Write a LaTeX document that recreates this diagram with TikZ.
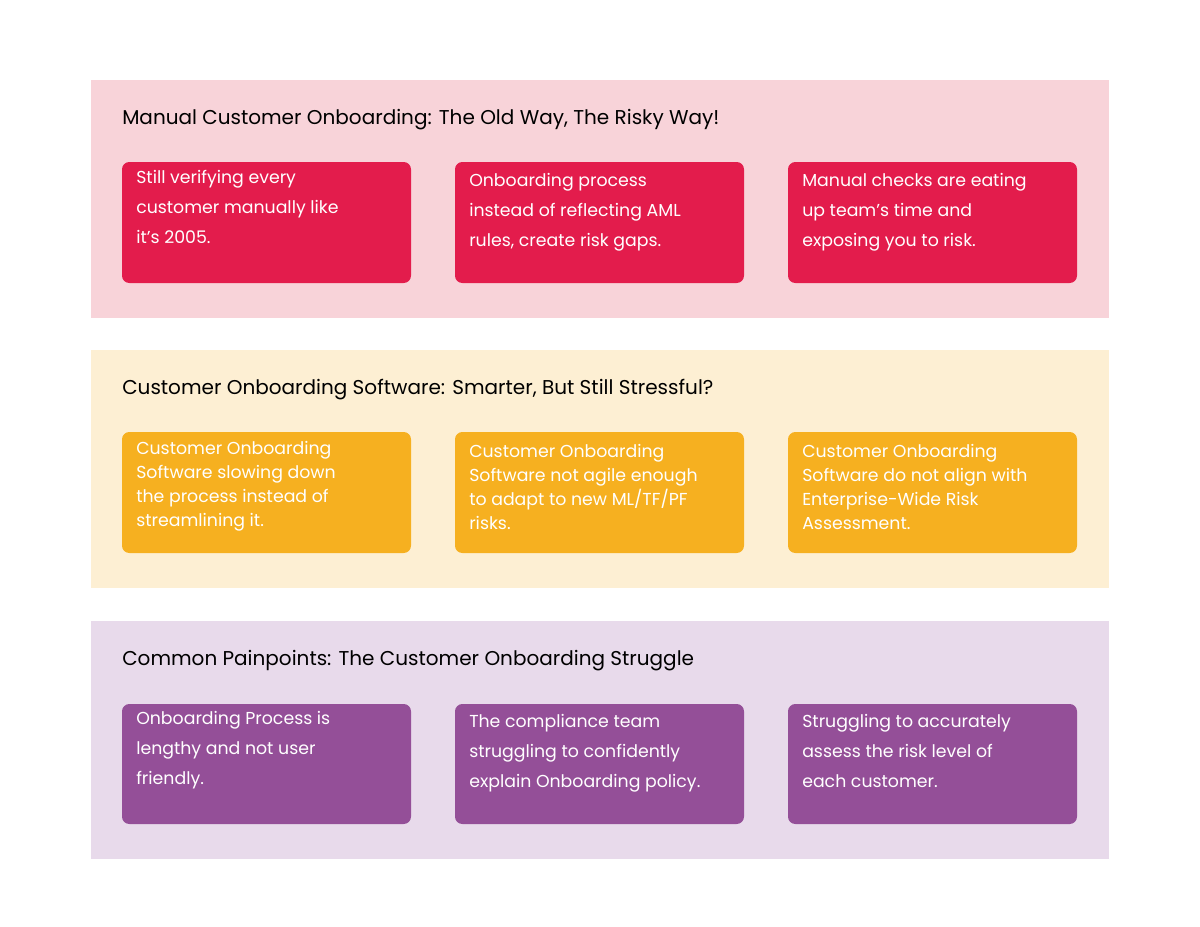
\documentclass[tikz,border=0pt]{standalone}
\usepackage{fontspec}
\setmainfont{Poppins}
\definecolor{pinkband}{HTML}{F8D3D9}
\definecolor{pinkbox}{HTML}{E31C4C}
\definecolor{yellowband}{HTML}{FDEFD3}
\definecolor{yellowbox}{HTML}{F6B020}
\definecolor{purpleband}{HTML}{E8DAEB}
\definecolor{purplebox}{HTML}{944F98}
\tikzset{
	band/.style = {draw = none},
	heading/.style = {anchor = west, inner sep = 0pt, font = \fontsize{15}{18}\selectfont},
	card/.style = {draw = none, rounded corners = 5.5pt},
	cardtext/.style = {anchor = north west, inner sep = 0pt, text = white, align = left,
		font = \fontsize{13}{22.5}\selectfont},
	tighttext/.style = {cardtext, font = \fontsize{13}{18}\selectfont}
}
\begin{document}
\begin{tikzpicture}[x = 0.75pt, y = -0.75pt]
\useasboundingbox[fill = white] (0,0) rectangle (1200,926);

% Bänder
\fill[band, pinkband] (91,80) rectangle (1109,318);
\fill[band, yellowband] (91,350) rectangle (1109,588);
\fill[band, purpleband] (91,621) rectangle (1109,859);

% Überschriften
\node[heading] (manual) at (122,120) {Manual Customer Onboarding: The Old Way, The Risky Way!};
\node[heading] (software) at (122,390) {Customer Onboarding Software: Smarter, But Still Stressful?};
\node[heading] (common) at (122,661) {Common Painpoints: The Customer Onboarding Struggle};

% Karten
\foreach \x in {122,455,788} {
	\fill[card, pinkbox] (\x,162) rectangle ++(289,121);
	\fill[card, yellowbox] (\x,432) rectangle ++(289,121);
	\fill[card, purplebox] (\x,704) rectangle ++(289,120);
}

% Texte
\node[cardtext] (verify) at (136,170) {Still verifying every\\customer manually like\\it's 2005.};
\node[cardtext] (process) at (469,173) {Onboarding process\\instead of reflecting AML\\rules, create risk gaps.};
\node[cardtext] (checks) at (802,173) {Manual checks are eating\\up team's time and\\exposing you to risk.};

\node[tighttext] (slow) at (136,441) {Customer Onboarding\\Software slowing down\\the process instead of\\streamlining it.};
\node[tighttext] (agile) at (469,444) {Customer Onboarding\\Software not agile enough\\to adapt to new ML/TF/PF\\risks.};
\node[tighttext] (align) at (802,444) {Customer Onboarding\\Software do not align with\\Enterprise-Wide Risk\\Assessment.};

\node[cardtext] (lengthy) at (136,711) {Onboarding Process is\\lengthy and not user\\friendly.};
\node[cardtext] (team) at (469,714) {The compliance team\\struggling to confidently\\explain Onboarding policy.};
\node[cardtext] (assess) at (802,714) {Struggling to accurately\\assess the risk level of\\each customer.};
\end{tikzpicture}
\end{document}
